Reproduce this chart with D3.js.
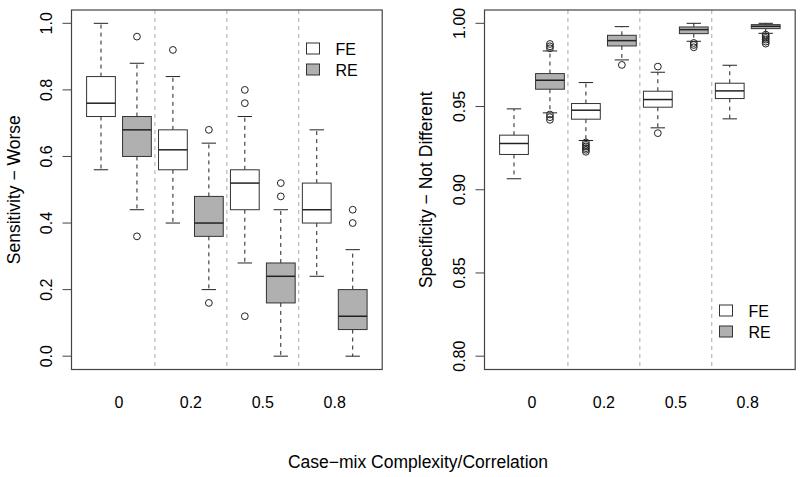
<!DOCTYPE html>
<html>
<head>
<meta charset="utf-8">
<script src="https://cdn.jsdelivr.net/npm/d3@7"></script>
<style>
  html, body { margin: 0; padding: 0; background: #fff; }
  svg { display: block; }
  text { font-family: "Liberation Sans", Arial, Helvetica, sans-serif; fill: #000; }
</style>
</head>
<body>
<svg id="chart" width="800" height="477"></svg>
<script>
// ---- Data ----
const categories = ["0", "0.2", "0.5", "0.8"];
const methods = ["FE", "RE"];
const fills = ["#ffffff", "#b0b0b0"];

// five-number boxes: [lower whisker, Q1, median, Q3, upper whisker]
const sensFE = [[0.56, 0.72, 0.76, 0.84, 1.00], [0.40, 0.56, 0.62, 0.68, 0.84], [0.28, 0.44, 0.52, 0.56, 0.72], [0.24, 0.40, 0.44, 0.52, 0.68]];
const sensRE = [[0.44, 0.60, 0.68, 0.72, 0.88], [0.20, 0.36, 0.40, 0.48, 0.64], [0.00, 0.16, 0.24, 0.28, 0.44], [0.00, 0.08, 0.12, 0.20, 0.32]];
const sensFEout = [[], [0.92], [0.80, 0.76, 0.12], []];
const sensREout = [[0.96, 0.36], [0.68, 0.16], [0.52, 0.48], [0.44, 0.40]];

const specFE = [[0.9066, 0.9212, 0.9278, 0.9328, 0.9486], [0.9296, 0.9424, 0.9478, 0.9518, 0.9644], [0.9372, 0.9496, 0.9542, 0.9592, 0.9706], [0.9426, 0.9548, 0.9594, 0.9640, 0.9748]];
const specRE = [[0.9462, 0.9604, 0.9658, 0.9698, 0.9834], [0.9780, 0.9864, 0.9896, 0.9928, 0.9980], [0.9892, 0.9938, 0.9962, 0.9978, 1.0000], [0.9940, 0.9968, 0.9982, 0.9992, 1.0000]];
const specFEout = [[], [0.9284, 0.9270, 0.9260, 0.9250, 0.9240, 0.9228], [0.9740, 0.9340], []];
const specREout = [[0.9876, 0.9862, 0.9850, 0.9452, 0.9436, 0.9420], [0.9750], [0.9882, 0.9870, 0.9856], [0.9932, 0.9922, 0.9912, 0.9902, 0.9890, 0.9878]];

const sensTicks = [0.0, 0.2, 0.4, 0.6, 0.8, 1.0];
const specTicks = [0.80, 0.85, 0.90, 0.95, 1.00];

const svg = d3.select("#chart");
const plotTop = 10, plotBottom = 369.5;

function panel(opts) {
  const g = svg.append("g");
  const x = d3.scaleLinear().domain([0.18, 8.82]).range([opts.left, opts.right]);
  const y = d3.scaleLinear().domain(opts.ydom).range([plotBottom, plotTop]);
  const unit = x(1) - x(0);
  const bw = 0.8 * unit;

  // dashed group separators
  g.selectAll("line.sep").data([2.5, 4.5, 6.5]).enter().append("line")
    .attr("x1", d => x(d)).attr("x2", d => x(d))
    .attr("y1", plotTop).attr("y2", plotBottom)
    .attr("stroke", "#a8a8a8").attr("stroke-width", 1).attr("stroke-dasharray", "4,4");

  const boxes = [];
  categories.forEach((c, gi) => {
    methods.forEach((m, mi) => {
      const stats = mi === 0 ? opts.fe[gi] : opts.re[gi];
      const outs = mi === 0 ? opts.feOut[gi] : opts.reOut[gi];
      boxes.push({pos: gi * 2 + mi + 1, s: stats, out: outs, fill: fills[mi]});
    });
  });

  const bg = g.selectAll("g.box").data(boxes).enter().append("g");
  // whiskers
  bg.append("line").attr("x1", d => x(d.pos)).attr("x2", d => x(d.pos))
    .attr("y1", d => y(d.s[3])).attr("y2", d => y(d.s[4]))
    .attr("stroke", "#222").attr("stroke-dasharray", "4,4");
  bg.append("line").attr("x1", d => x(d.pos)).attr("x2", d => x(d.pos))
    .attr("y1", d => y(d.s[1])).attr("y2", d => y(d.s[0]))
    .attr("stroke", "#222").attr("stroke-dasharray", "4,4");
  // staples
  [0, 4].forEach(k => {
    bg.append("line").attr("x1", d => x(d.pos) - bw / 4).attr("x2", d => x(d.pos) + bw / 4)
      .attr("y1", d => y(d.s[k])).attr("y2", d => y(d.s[k]))
      .attr("stroke", "#222").attr("stroke-width", 1);
  });
  // box
  bg.append("rect").attr("x", d => x(d.pos) - bw / 2).attr("width", bw)
    .attr("y", d => y(d.s[3])).attr("height", d => y(d.s[1]) - y(d.s[3]))
    .attr("fill", d => d.fill).attr("stroke", "#333").attr("stroke-width", 1);
  // median
  bg.append("line").attr("x1", d => x(d.pos) - bw / 2).attr("x2", d => x(d.pos) + bw / 2)
    .attr("y1", d => y(d.s[2])).attr("y2", d => y(d.s[2]))
    .attr("stroke", "#222").attr("stroke-width", 1.5);
  // outliers
  bg.each(function(d) {
    d3.select(this).selectAll("circle").data(d.out).enter().append("circle")
      .attr("cx", x(d.pos)).attr("cy", v => y(v)).attr("r", 3.4)
      .attr("fill", "none").attr("stroke", "#222").attr("stroke-width", 1);
  });

  // frame
  g.append("rect").attr("x", opts.left).attr("y", plotTop)
    .attr("width", opts.right - opts.left).attr("height", plotBottom - plotTop)
    .attr("fill", "none").attr("stroke", "#444").attr("stroke-width", 1.2);

  // y axis ticks
  g.selectAll("line.yt").data(opts.ticks).enter().append("line")
    .attr("x1", opts.left - 9).attr("x2", opts.left)
    .attr("y1", d => y(d)).attr("y2", d => y(d))
    .attr("stroke", "#444");
  g.selectAll("text.yl").data(opts.ticks).enter().append("text")
    .attr("transform", d => `translate(${opts.left - 20},${y(d)}) rotate(-90)`)
    .attr("text-anchor", "middle").attr("font-size", 16)
    .text(d => d3.format(opts.fmt)(d));

  // x labels (group centres)
  g.selectAll("text.xl").data(categories).enter().append("text")
    .attr("x", (d, i) => x(i * 2 + 1.5)).attr("y", 407.5)
    .attr("text-anchor", "middle").attr("font-size", 16).text(d => d);

  // y title
  g.append("text")
    .attr("transform", `translate(${opts.titleX},${(plotTop + plotBottom) / 2}) rotate(-90)`)
    .attr("text-anchor", "middle").attr("font-size", 17.5).text(opts.title);

  // legend
  const lg = g.append("g");
  methods.forEach((m, i) => {
    lg.append("rect").attr("x", opts.legX).attr("y", opts.legY + i * 21)
      .attr("width", 13).attr("height", 11)
      .attr("fill", fills[i]).attr("stroke", "#333");
    lg.append("text").attr("x", opts.legX + 29).attr("y", opts.legY + i * 21 + 11.5)
      .attr("font-size", 16).text(m);
  });
}

panel({left: 71.5, right: 382.2, ydom: [-0.04, 1.04], fe: sensFE, re: sensRE,
  feOut: sensFEout, reOut: sensREout, ticks: sensTicks, fmt: ".1f",
  title: "Sensitivity \u2212 Worse", titleX: 19.5, legX: 306.5, legY: 43});
panel({left: 484.5, right: 795.2, ydom: [0.792, 1.008], fe: specFE, re: specRE,
  feOut: specFEout, reOut: specREout, ticks: specTicks, fmt: ".2f",
  title: "Specificity \u2212 Not Different", titleX: 432, legX: 719.5, legY: 305});

svg.append("text").attr("x", 418).attr("y", 467.5).attr("text-anchor", "middle")
  .attr("font-size", 17.5).text("Case\u2212mix Complexity/Correlation");
</script>
</body>
</html>
